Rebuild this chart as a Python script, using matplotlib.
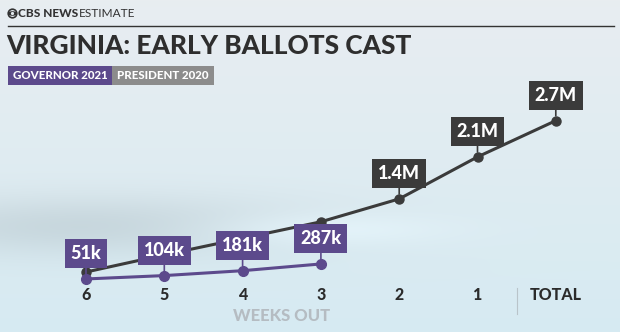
import matplotlib.pyplot as plt
import numpy as np
from matplotlib.patches import Circle, Ellipse, Rectangle

# data
weeks = ['6', '5', '4', '3', '2', '1', 'TOTAL']
gov_2021 = [0.051, 0.104, 0.181, 0.287]           # millions
gov_labels = ['51k', '104k', '181k', '287k']
pres_2020 = [0.16, 0.43, 0.69, 0.95, 1.31, 1.97, 2.54]
pres_labels = [None, None, None, None, '1.4M', '2.1M', '2.7M']

PURPLE = '#5c4a8c'
DARK = '#3b3b3b'
W, H = 620, 332

fig = plt.figure(figsize=(W / 100, H / 100), dpi=100)

# soft blurred background
bg = fig.add_axes([0, 0, 1, 1])
yy, xx = np.mgrid[0:H, 0:W] / np.array([H, W])[:, None, None]
top = np.array([0.91, 0.93, 0.945])
bot = np.array([0.84, 0.92, 0.95])
img = top[None, None, :] * (1 - yy[..., None]) + bot[None, None, :] * yy[..., None]
band = np.exp(-((yy - 0.68) / 0.09) ** 2) * np.exp(-((xx - 0.15) / 0.35) ** 2)
img -= 0.08 * band[..., None]
light = np.exp(-((yy - 0.69) / 0.05) ** 2) * np.exp(-((xx - 0.5) / 0.2) ** 2)
img += 0.05 * light[..., None]
bg.imshow(np.clip(img, 0, 1), extent=[0, W, H, 0], aspect='auto')
bg.set_xlim(0, W)
bg.set_ylim(H, 0)
bg.axis('off')

# header
bg.add_patch(Circle((12.5, 13.5), 4.3, fc='none', ec='#333333', lw=1.2))
bg.add_patch(Ellipse((12.5, 13.5), 8.6, 4.6, fc='#333333', ec='none'))
bg.add_patch(Circle((12.5, 13.5), 1.6, fc='#e4ebef', ec='none'))
cbs = bg.text(17.5, 13.5, 'CBS NEWS', family='Lato', weight=900, fontsize=8.6,
              color='#333333', va='center', ha='left')
fig.canvas.draw()
ext = cbs.get_window_extent()
bg.text(ext.x1 + 1.5, 13.5, 'ESTIMATE', family='Lato', fontsize=8.6,
        color='#333333', va='center', ha='left')
bg.plot([8, 614], [26, 26], color='#333333', lw=1.0)
bg.text(6.5, 46, 'VIRGINIA: EARLY BALLOTS CAST', family='Lato', weight=900,
        fontsize=18.9, color='#2e2e2e', va='center', ha='left')

# legend chips
bg.add_patch(Rectangle((8, 66), 104, 19, fc=PURPLE, ec='none'))
bg.add_patch(Rectangle((112, 66), 102, 19, fc='#8c8c8c', ec='none'))
bg.text(60, 75.8, 'GOVERNOR 2021', family='Lato', weight=900, fontsize=8.3,
        color='white', va='center', ha='center')
bg.text(163, 75.8, 'PRESIDENT 2020', family='Lato', weight=900, fontsize=8.3,
        color='white', va='center', ha='center')

# chart axes: pixel x = 86 + 78.3*i, pixel y = 282.2 - 63.6*v
step = 78.3
left_px = 86 - 0.5 * step
ax = fig.add_axes([left_px / W, (H - 282.2) / H, 7 * step / W, 2.8 * 63.6 / H])
ax.set_xlim(-0.5, 6.5)
ax.set_ylim(0, 2.8)
ax.axis('off')

x_pres = np.arange(len(pres_2020))
x_gov = np.arange(len(gov_2021))
ax.plot(x_pres, pres_2020, color=DARK, lw=2.2, marker='o', ms=6.5, clip_on=False, zorder=2)
ax.plot(x_gov, gov_2021, color=PURPLE, lw=2.2, marker='o', ms=7, clip_on=False, zorder=3)


def tag(x, y, s, color):
    ax.annotate(s, xy=(x, y), xytext=(0, 12), textcoords='offset points',
                ha='center', va='bottom', family='Lato', weight=900,
                fontsize=13, color='white', zorder=5,
                bbox=dict(boxstyle='square,pad=0.33', fc=color, ec='none'),
                arrowprops=dict(arrowstyle='-', color=color, lw=1.2,
                                shrinkA=0, shrinkB=3.5))


for x, v, s in zip(x_gov, gov_2021, gov_labels):
    tag(x, v, s, PURPLE)
for x, v, s in zip(x_pres, pres_2020, pres_labels):
    if s:
        tag(x, v, s, DARK)

# week labels
for i, w in enumerate(weeks):
    bg.text(86 + step * i, 295.5, w, family='Lato', weight=900, fontsize=11.5,
            color='#2b2b2b', ha='center', va='center')
bg.plot([517, 517], [288, 314], color='#b9c4ca', lw=0.8)
bg.text(282, 316, 'WEEKS OUT', family='Lato', weight=900, fontsize=12,
        color='#b5bcc2', ha='center', va='center')

fig.savefig('out.png', dpi=100)
